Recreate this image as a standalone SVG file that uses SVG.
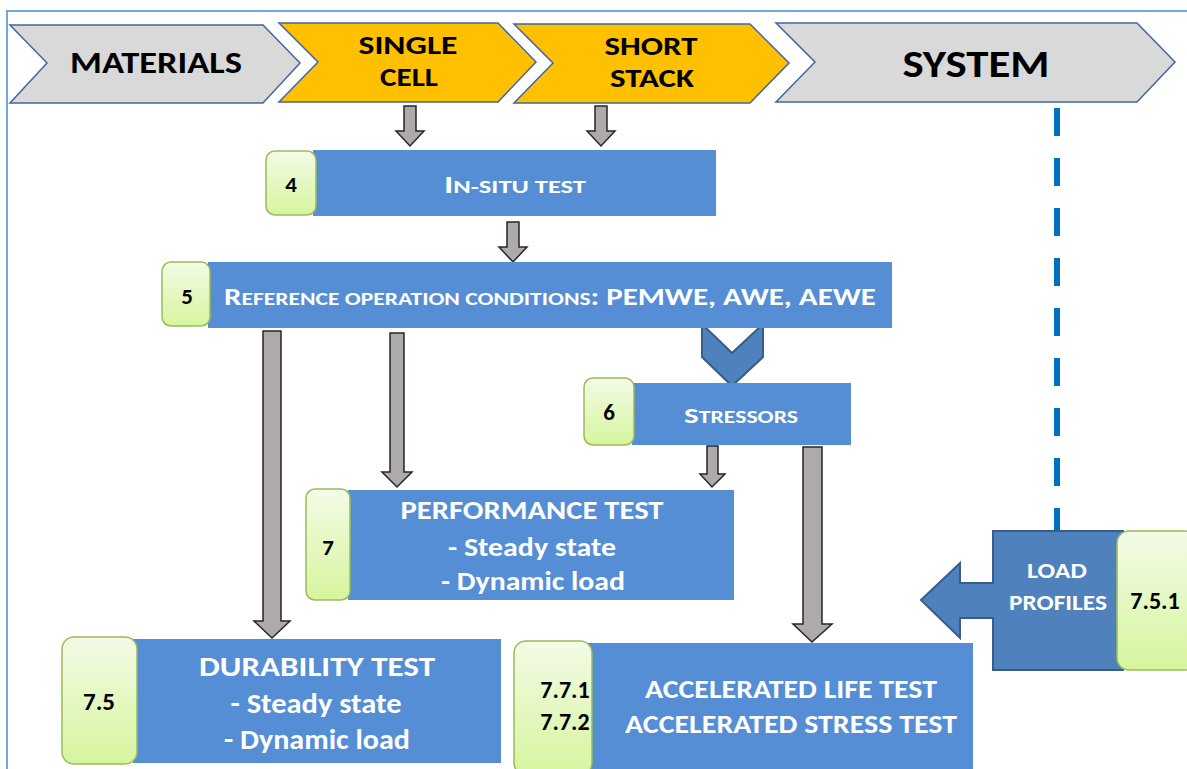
<svg xmlns="http://www.w3.org/2000/svg" width="1187" height="769" viewBox="0 0 1187 769">
<defs>
<linearGradient id="tabg" x1="0" y1="0" x2="0" y2="1">
<stop offset="0" stop-color="#f3fbe6"/>
<stop offset="1" stop-color="#d6f59e"/>
</linearGradient>
<style>
.chev-g{fill:#d9d9d9;stroke:#41679e;stroke-width:1.5}
.chev-y{fill:#ffc000;stroke:#41679e;stroke-width:1.5}
.hdr{font-family:Carlito,"Liberation Sans",Arial,sans-serif;font-weight:bold;fill:#000;text-anchor:middle}
.box{fill:#558ed5}
.tab{fill:url(#tabg);stroke:#9bbb59;stroke-width:1.5}
.num{font-family:Carlito,"Liberation Sans",Arial,sans-serif;font-weight:bold;fill:#000;text-anchor:middle}
.wt{font-family:Carlito,"Liberation Sans",Arial,sans-serif;font-weight:bold;fill:#fff;text-anchor:middle}
.garrow{fill:#aeaaaa;stroke:#262626;stroke-width:1.5;stroke-linejoin:miter}
.barrow{fill:#4f81bd;stroke:#385d8a;stroke-width:2}
</style>
</defs>
<rect width="1187" height="769" fill="#fff"/>
<polyline points="7,769 7,11 1187,11" fill="none" stroke="#6fa8dc" stroke-width="2"/>

<g id="materials">
<polygon class="chev-g" points="10,25 263,25 300,63 263,103 10,103 47,63"/>
<text class="hdr" x="156" y="73" font-size="30" textLength="172" lengthAdjust="spacingAndGlyphs">MATERIALS</text>
</g>
<g id="single-cell">
<polygon class="chev-y" points="279,23 498,23 536,62 498,102 279,102 318,62"/>
<text class="hdr" x="408" y="54" font-size="27" textLength="99" lengthAdjust="spacingAndGlyphs">SINGLE</text>
<text class="hdr" x="409" y="86" font-size="27" textLength="58" lengthAdjust="spacingAndGlyphs">CELL</text>
</g>
<g id="short-stack">
<polygon class="chev-y" points="514,24 750,24 789,63 750,103 514,103 553,63"/>
<text class="hdr" x="651" y="55" font-size="27" textLength="93" lengthAdjust="spacingAndGlyphs">SHORT</text>
<text class="hdr" x="652" y="87" font-size="27" textLength="84" lengthAdjust="spacingAndGlyphs">STACK</text>
</g>
<g id="system">
<polygon class="chev-g" points="776,23 1137,23 1175,62 1137,102 776,102 815,62"/>
<text class="hdr" x="976" y="77" font-size="38" textLength="147" lengthAdjust="spacingAndGlyphs">SYSTEM</text>
</g>

<g id="connectors">
<polygon class="garrow" points="404,106 416,106 416,131 424,131 410,146 396,131 404,131"/>
<polygon class="garrow" points="595,106 607,106 607,131 615,131 601,146 587,131 595,131"/>
<polygon class="garrow" points="507,222 519,222 519,247 527,247 513,262 499,247 507,247"/>
<polygon class="garrow" points="263,331 281,331 281,621 290,621 272,638 254,621 263,621"/>
<polygon class="garrow" points="390,333 404,333 404,472 412,472 397,487 382,472 390,472"/>
<polygon class="garrow" points="707,446 718,446 718,474 725,474 712,487 700,474 707,474"/>
<polygon class="garrow" points="803,447 822,447 822,624 832,624 812,642 793,624 803,624"/>
<polygon class="barrow" points="702,324 732,353 763,324 763,357 732,386 702,357"/>
<line x1="1057" y1="108" x2="1057" y2="531" stroke="#0070c0" stroke-width="6" stroke-dasharray="28 22"/>
</g>

<g id="node-4">
<rect class="box" x="313" y="150" width="403" height="66"/>
<rect class="tab" x="266" y="151" width="50" height="64" rx="9"/>
<text class="num" x="291" y="192" font-size="23">4</text>
<text class="wt" x="515" y="193" textLength="142" lengthAdjust="spacingAndGlyphs"><tspan font-size="25">I</tspan><tspan font-size="19">N-SITU TEST</tspan></text>
</g>

<g id="node-5">
<rect class="box" x="208" y="262" width="684" height="66"/>
<rect class="tab" x="162" y="262" width="48" height="64" rx="9"/>
<text class="num" x="187" y="304" font-size="23">5</text>
<text class="wt" x="550" y="305" textLength="652" lengthAdjust="spacingAndGlyphs"><tspan font-size="25">R</tspan><tspan font-size="19">EFERENCE OPERATION CONDITIONS</tspan><tspan font-size="25">: PEMWE, AWE, AEWE</tspan></text>
</g>

<g id="node-6">
<rect class="box" x="632" y="383" width="219" height="62"/>
<rect class="tab" x="584" y="378" width="50" height="67" rx="9"/>
<text class="num" x="609" y="420" font-size="23">6</text>
<text class="wt" x="741" y="423" textLength="114" lengthAdjust="spacingAndGlyphs"><tspan font-size="23">S</tspan><tspan font-size="17.5">TRESSORS</tspan></text>
</g>

<g id="node-7">
<rect class="box" x="348" y="490" width="386" height="110"/>
<rect class="tab" x="306" y="489" width="44" height="111" rx="9"/>
<text class="num" x="328" y="555" font-size="23">7</text>
<text class="wt" x="532" y="519" font-size="26" textLength="263" lengthAdjust="spacingAndGlyphs">PERFORMANCE  TEST</text>
<text class="wt" x="532" y="556" font-size="26" textLength="168" lengthAdjust="spacingAndGlyphs">- Steady state</text>
<text class="wt" x="533" y="590" font-size="26" textLength="184" lengthAdjust="spacingAndGlyphs">- Dynamic load</text>
</g>

<g id="node-7-5">
<rect class="box" x="133" y="639" width="368" height="124"/>
<rect class="tab" x="62" y="637" width="75" height="127" rx="12"/>
<text class="num" x="99" y="710" font-size="25">7.5</text>
<text class="wt" x="317" y="676" font-size="28" textLength="236" lengthAdjust="spacingAndGlyphs">DURABILITY TEST</text>
<text class="wt" x="316" y="713" font-size="28" textLength="171" lengthAdjust="spacingAndGlyphs">- Steady state</text>
<text class="wt" x="317" y="749" font-size="28" textLength="186" lengthAdjust="spacingAndGlyphs">- Dynamic load</text>
</g>

<g id="node-7-7">
<rect class="box" x="588" y="643" width="385" height="126"/>
<rect class="tab" x="514" y="641" width="78" height="134" rx="12"/>
<text class="num" x="565" y="698" font-size="24">7.7.1</text>
<text class="num" x="565" y="730" font-size="24">7.7.2</text>
<text class="wt" x="791" y="698" font-size="26" textLength="292" lengthAdjust="spacingAndGlyphs">ACCELERATED LIFE TEST</text>
<text class="wt" x="791" y="733" font-size="26" textLength="332" lengthAdjust="spacingAndGlyphs">ACCELERATED STRESS TEST</text>
</g>

<g id="load-profiles">
<polygon class="barrow" points="993,531 1123,531 1123,670 993,670 993,618 960,618 960,638 921,600 960,563 960,583 993,583"/>
<rect class="tab" x="1117" y="531" width="80" height="139" rx="12"/>
<text class="num" x="1155" y="609" font-size="24">7.5.1</text>
<text class="wt" x="1057" y="578" font-size="22" textLength="60" lengthAdjust="spacingAndGlyphs">LOAD</text>
<text class="wt" x="1058" y="610" font-size="22" textLength="98" lengthAdjust="spacingAndGlyphs">PROFILES</text>
</g>
</svg>
